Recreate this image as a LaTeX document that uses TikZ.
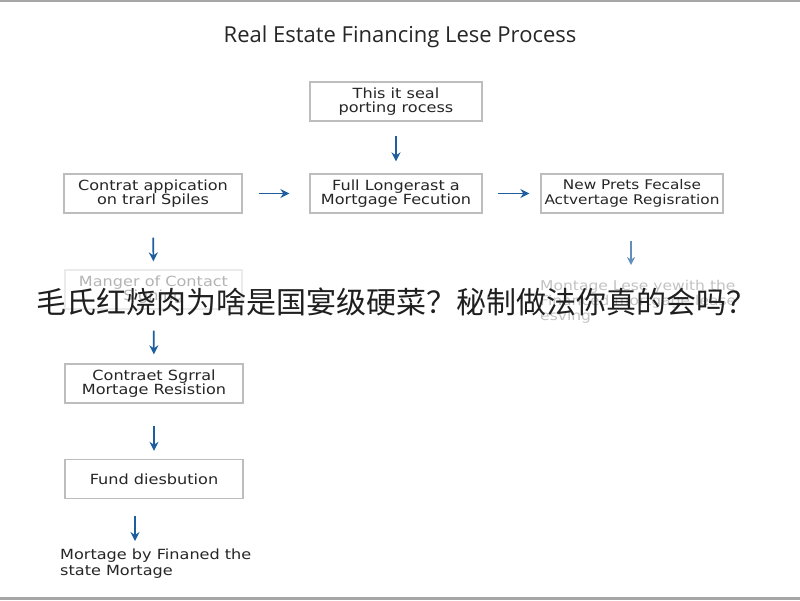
\documentclass[tikz,border=0pt]{standalone}
\usepackage{fontspec}
\setmainfont[FakeStretch=1.15]{DejaVu Sans}
\newfontfamily\titlefont{Open Sans}
\newfontfamily\cjk{Noto Sans CJK SC}
\usetikzlibrary{arrows.meta}
\definecolor{arrowblue}{HTML}{1F5E9E}
\definecolor{boxgray}{HTML}{BDBDBD}
\definecolor{fadegray}{HTML}{B4B4B4}
\definecolor{edgegray}{HTML}{A6A6A6}
\tikzset{
  stepbox/.style={draw=boxgray, line width=1.3pt, fill=white, rectangle,
    minimum height=39pt, align=center, inner sep=1pt,
    font=\fontsize{14}{14.5}\selectfont, text=black!85},
  fadebox/.style={draw=black!8, line width=1.2pt, rectangle,
    minimum height=39pt, align=center, inner sep=1pt,
    font=\fontsize{14}{14.5}\selectfont, text=fadegray},
  flow/.style={draw=arrowblue, line width=1.7pt, -{Stealth[length=9pt,width=9pt]}},
  fadeflow/.style={draw=arrowblue!70, line width=1.4pt, -{Stealth[length=8pt,width=8pt,fill=arrowblue!35]}},
}
\begin{document}
\begin{tikzpicture}[x=1pt,y=-1pt]
\useasboundingbox (0,0) rectangle (800,600);
\fill[white] (0,0) rectangle (800,600);
\fill[edgegray] (0,0) rectangle (800,2);
\fill[edgegray] (0,597) rectangle (800,600);

\node[font=\titlefont\fontsize{22}{24}\selectfont, text=black!85] (title) at (400,37) {Real Estate Financing Lese Process};

\node[stepbox, minimum width=172pt] (a) at (396,101.5) {This it seal\\porting rocess};
\node[stepbox, minimum width=178pt] (l) at (153,193.5) {Contrat appication\\on trarl Spiles};
\node[stepbox, minimum width=172pt] (m) at (396,193.5) {Full Longerast a\\Mortgage Fecution};
\node[stepbox, minimum width=182pt, font=\fontsize{13.3}{14.5}\selectfont] (r) at (632,193.5) {New Prets Fecalse\\Actvertage Regisration};

\node[fadebox, minimum width=177pt] (lf) at (153.5,289.5) {Manger of Contact\\Signing};
\node[font=\fontsize{13.5}{15}\selectfont, text=fadegray!80, align=left, anchor=north west, inner sep=0pt] (rf) at (540,280) {Montage Lese yewith the\\Financed mortgage lease\\esving};

\node[stepbox, minimum width=178pt] (c) at (154,383.5) {Contraet Sgrral\\Mortage Resistion};
\node[stepbox, minimum width=178pt] (d) at (154,479) {Fund diesbution};
\node[font=\fontsize{14}{15.5}\selectfont, text=black!85, align=left, anchor=north west, inner sep=0pt] (e) at (60,549) {Mortage by Finaned the\\state Mortage};
\coordinate (etop) at (135,548);

\draw[flow, shorten <=14pt, shorten >=12pt] (a.south) -- (m.north);
\draw[flow, shorten <=16pt, shorten >=20pt] (l.east) -- (m.west);
\draw[flow, shorten <=15pt, shorten >=11pt] (m.east) -- (r.west);
\draw[flow, shorten <=24pt, shorten >=8pt] (l.south) -- (lf.north);
\draw[flow, shorten <=21pt, shorten >=9pt] (lf.south) -- (c.north);
\draw[flow, shorten <=22pt, shorten >=8pt] (c.south) -- (d.north);
\draw[flow, shorten <=17pt, shorten >=7pt] (d.south -| etop) -- (etop);
\coordinate (rfa) at (631,279);
\draw[fadeflow, shorten <=27pt, shorten >=14pt] (r.south -| rfa) -- (rfa);

\node[font=\cjk\fontsize{30}{34}\selectfont, text=black!88, inner sep=0pt] (overlay) at (396,302) {毛氏红烧肉为啥是国宴级硬菜？秘制做法你真的会吗？};
\end{tikzpicture}
\end{document}
